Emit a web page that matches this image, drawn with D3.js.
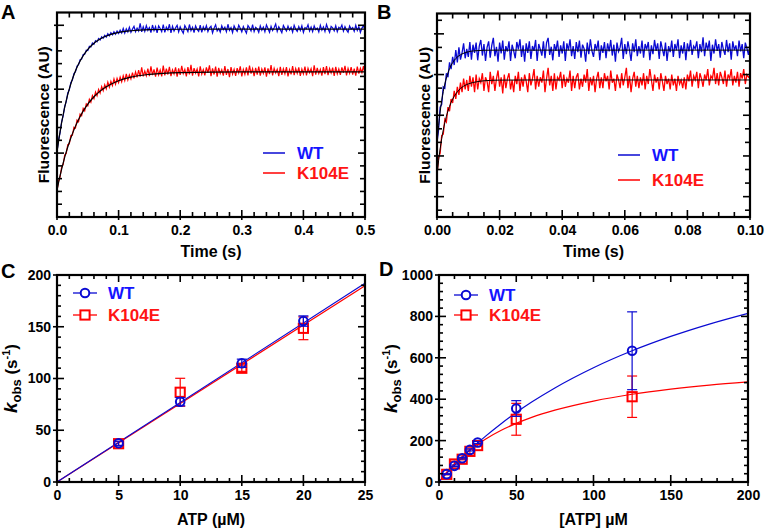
<!DOCTYPE html>
<html><head><meta charset="utf-8">
<script src="https://cdn.jsdelivr.net/npm/d3@7"></script>
<style>
body{margin:0;background:#fff}
svg{display:block}
text{font-family:"Liberation Sans",Arial,Helvetica,sans-serif;font-weight:bold}
</style>
</head><body>
<svg id="c" width="765" height="530"></svg>
<script>
// ---------------- DATA ----------------
const seriesNames = ["WT", "K104E"];
// Panel A: stopped-flow traces, sampled every 2.5 ms (0 - 0.5 s), fluorescence in arbitrary units
const stepA = 0.0025;
const traceA_WT = [5.10,6.02,6.60,7.45,7.92,8.66,9.03,9.70,9.95,10.52,
10.71,11.22,11.36,11.80,11.91,12.30,12.35,12.71,12.74,13.05,
13.02,13.36,13.30,13.61,13.52,13.80,13.70,13.97,13.85,14.10,
13.98,14.22,14.08,14.35,14.18,14.42,14.25,14.50,14.30,14.55,
14.36,14.62,14.40,14.75,14.38,14.72,14.48,14.85,14.45,14.70,
14.92,14.50,14.78,14.55,15.15,14.48,14.88,14.52,14.98,14.60,
14.82,14.42,15.02,14.58,14.90,14.40,14.95,14.75,14.50,15.05,
14.45,14.85,14.62,15.08,14.40,14.92,14.55,14.80,15.00,14.48,
14.88,14.60,14.38,14.98,14.75,14.50,15.06,14.58,14.85,14.42,
14.95,14.68,14.52,15.02,14.45,14.88,14.62,14.98,14.50,14.80,
14.92,14.40,14.78,15.04,14.55,14.74,14.46,14.96,14.66,14.85,
14.50,15.08,14.60,14.82,14.42,14.95,14.70,14.52,15.00,14.76,
14.48,14.90,14.64,14.38,14.98,14.80,14.55,15.05,14.50,14.84,
14.72,14.44,14.96,14.62,14.86,14.50,15.02,14.74,14.45,14.92,
14.58,14.80,15.10,14.52,14.88,14.66,14.42,14.98,14.76,14.55,
14.94,14.62,14.84,14.46,15.00,14.70,14.52,14.90,14.60,14.96,
14.44,14.82,14.74,15.04,14.55,14.86,14.50,14.95,14.66,14.78,
14.48,15.00,14.62,14.88,14.52,15.06,14.72,14.45,14.92,14.80,
14.56,14.96,14.50,14.85,14.74,15.02,14.54,14.90,14.64,14.46,
14.94,14.70,14.82,14.52,15.00,14.60,14.90,14.44,14.78,14.96,14.66];
const traceA_K104E = [2.05,2.80,3.15,3.90,4.10,4.85,4.98,5.66,5.72,6.38,
6.40,7.02,6.95,7.58,7.45,8.05,7.92,8.50,8.30,8.85,
8.70,9.22,8.98,9.50,9.25,9.78,9.48,9.98,9.70,10.20,
9.88,10.35,10.02,10.55,10.15,10.62,10.28,10.80,10.38,10.85,
10.50,10.95,10.58,11.05,10.66,11.20,10.72,11.12,10.80,11.30,
10.85,11.35,10.92,11.50,10.98,11.70,11.00,11.42,11.05,11.60,
11.02,11.78,11.10,11.55,10.98,11.68,11.12,11.50,11.00,11.85,
11.08,11.60,11.15,11.75,11.02,11.52,11.20,11.70,10.98,11.62,
11.12,11.82,11.22,11.55,11.00,11.72,11.16,11.90,11.06,11.64,
11.25,11.58,11.00,11.78,11.18,11.54,11.08,11.70,11.28,11.86,
11.02,11.62,11.15,11.76,10.98,11.66,11.22,11.52,11.06,11.80,
11.12,11.58,10.95,11.72,11.18,11.56,11.04,11.64,11.26,11.78,
11.00,11.55,11.16,11.70,11.08,11.84,11.22,11.60,11.02,11.66,
11.14,11.76,11.06,11.58,11.24,11.70,10.98,11.62,11.18,11.88,
11.08,11.64,11.26,11.56,11.02,11.74,11.12,11.60,11.20,11.72,
11.00,11.54,11.16,11.80,11.10,11.62,11.24,11.70,11.04,11.58,
11.20,11.76,11.08,11.64,11.28,11.60,11.02,11.86,11.14,11.66,
11.22,11.56,11.06,11.72,11.18,11.80,11.10,11.62,11.26,11.68,
11.04,11.74,11.20,11.58,11.12,11.70,11.28,11.82,11.08,11.63,
11.24,11.72,11.14,11.60,11.06,11.76,11.22,11.64,11.30,11.80,11.18];
// Panel A fitted curves (black), read at these times
const fitTimesA = [0,0.005,0.01,0.015,0.02,0.03,0.04,0.05,0.06,0.07,0.08,0.1,0.12,0.15,0.2,0.3,0.4,0.5];
const fitA_WT    = [5.10,6.68,8.00,9.10,10.02,11.44,12.42,13.11,13.60,13.93,14.16,14.44,14.57,14.66,14.69,14.70,14.70,14.70];
const fitA_K104E = [2.10,3.23,4.22,5.09,5.85,7.11,8.08,8.83,9.41,9.85,10.19,10.66,10.94,11.16,11.30,11.35,11.35,11.35];

// Panel B: traces sampled every 0.5 ms (0 - 0.1 s)
const stepB = 0.0005;
const traceB_WT = [5.50,6.40,8.10,8.30,9.60,9.50,10.60,10.30,11.40,10.90,
11.80,11.20,12.30,11.40,12.50,11.60,12.10,12.80,11.70,12.40,
11.80,12.90,11.60,12.70,12.10,12.85,11.55,12.60,13.05,11.90,
12.75,11.50,12.50,12.95,11.75,12.65,13.20,11.85,12.55,11.45,
12.85,12.05,13.00,11.60,12.60,12.20,12.95,11.50,12.70,12.25,
11.70,12.90,12.35,13.10,11.80,12.65,11.45,12.80,12.10,12.95,
11.65,12.60,12.25,13.05,11.50,12.75,12.35,11.90,12.95,11.70,
12.85,13.20,11.95,12.55,11.55,12.75,12.25,13.00,11.80,12.65,
12.05,12.95,11.50,12.80,12.30,13.10,11.85,12.60,11.65,12.90,
12.15,13.00,11.75,12.70,12.40,11.45,12.85,12.00,13.10,12.25,
11.80,12.75,12.30,13.00,11.55,12.65,12.10,12.90,11.70,12.80,
12.20,13.05,11.90,12.70,11.45,12.85,12.20,12.50,13.20,11.65,
12.75,12.00,12.95,12.30,11.50,12.80,12.15,13.10,11.85,12.60,
12.05,13.00,11.75,12.75,12.35,12.90,11.55,12.65,12.00,13.05,
12.25,12.80,11.65,12.95,12.40,11.85,12.85,11.50,12.60,12.15,
13.00,11.80,12.75,12.30,13.10,11.70,12.65,12.05,12.90,11.55,
12.80,12.20,13.05,11.95,12.60,12.40,12.95,11.70,12.75,12.15,
13.25,11.85,12.85,12.30,13.00,11.50,12.70,12.05,13.10,12.25,
12.75,11.75,12.90,12.35,11.95,13.05,12.15,12.80,11.60,12.95,
12.30,12.65,11.85,13.00,12.20,12.75,11.70,12.85,12.45,11.95,12.60];
const traceB_K104E = [3.10,4.40,4.70,6.00,6.10,7.20,7.00,8.10,7.80,8.70,
8.40,9.30,8.70,9.60,9.00,9.90,9.20,10.20,9.40,10.10,
9.30,10.40,9.60,10.30,9.20,10.50,9.40,10.20,9.90,10.60,
9.30,10.30,10.00,9.20,10.70,9.80,10.40,9.30,10.20,10.80,
9.60,10.30,9.10,10.50,9.50,10.20,10.60,9.40,10.10,9.20,
10.40,9.80,10.70,9.30,10.30,9.60,10.50,10.00,9.20,10.60,
9.70,10.20,10.90,9.40,10.40,9.60,10.30,9.90,10.80,9.20,
10.20,11.00,9.70,10.40,9.30,10.60,9.40,10.30,10.10,10.70,
9.50,10.50,9.60,10.20,9.90,10.80,9.30,10.40,9.50,10.30,
10.60,9.40,10.20,9.60,10.50,9.90,10.90,9.30,10.30,9.70,
10.40,9.20,10.20,10.70,9.50,10.30,9.50,10.60,10.00,10.40,
9.40,10.80,9.90,10.20,9.30,10.50,10.10,9.50,10.60,9.70,
10.30,11.00,9.50,10.40,9.20,10.20,10.70,9.60,10.40,9.50,
10.30,9.70,10.60,9.40,10.40,9.80,10.90,10.10,9.30,10.50,
9.90,10.30,9.40,10.60,10.00,9.30,10.40,9.80,10.20,9.40,
10.50,9.70,10.20,9.30,10.40,9.80,10.10,9.50,10.30,9.40,
10.50,10.00,10.80,9.60,10.40,10.10,10.70,9.50,10.60,10.20,
9.60,10.50,10.10,10.90,9.70,10.40,10.20,11.00,9.80,10.60,
9.70,10.70,10.30,9.80,10.80,9.60,10.50,10.20,10.90,9.70,
10.40,9.90,10.70,9.60,10.60,10.20,10.90,9.80,10.50,10.30,10.40];
const fitTimesB = [0,0.0005,0.001,0.0015,0.002,0.0025,0.003,0.004,0.005,0.006,0.008,0.01,0.0125,0.015,0.02,0.03,0.05,0.1];
const fitB_WT    = [5.50,6.73,7.74,8.57,9.25,9.80,10.25,10.93,11.38,11.68,12.02,12.18,12.26,12.29,12.30,12.30,12.30,12.30];
const fitB_K104E = [3.10,4.14,5.02,5.77,6.41,6.96,7.42,8.15,8.69,9.07,9.56,9.81,9.96,10.04,10.09,10.10,10.10,10.10];

// Panel C: kobs vs ATP (uM), 5-25 uM
const atpC = [5, 10, 15, 20];
const kobsC_WT = [37.4, 77.6, 114.7, 155.5];
const errC_WT  = [2, 4, 4, 5];
const kobsC_K104E = [37.0, 86.7, 109.9, 148.5];
const errC_K104E  = [2, 13.5, 3, 11];
const lineC_x = [0, 25];
const lineC_WT = [0, 192];
const lineC_K104E = [0, 189.5];

// Panel D: kobs vs [ATP] (uM), up to 125 uM
const atpD = [5, 10, 15, 20, 25, 50, 125];
const kobsD_WT = [38, 78, 115, 155, 191, 355, 634];
const errD_WT  = [2, 4, 4, 5, 5, 38, 188];
const kobsD_K104E = [37, 87, 110, 148, 176, 303, 412];
const errD_K104E  = [2, 13, 3, 11, 5, 77, 100];
const fitD_x = [0, 5, 10, 15, 20, 25, 30, 40, 50, 60, 75, 100, 125, 150, 175, 200];
const fitD_WT = [0, 41.6, 81.1, 118.6, 154.2, 188.1, 220.4, 280.6, 335.6, 386, 454.3, 552, 633.8, 703.2, 762.9, 814.8];
const fitD_K104E = [0, 47.5, 88.3, 123.8, 155, 182.5, 207, 249, 283, 312, 347, 391, 424, 448.5, 468, 483.7];

// Tick labels
const xLabelsA = [0, 0.1, 0.2, 0.3, 0.4, 0.5];
const xLabelsB = [0, 0.02, 0.04, 0.06, 0.08, 0.10];
const xLabelsC = [0, 5, 10, 15, 20, 25];
const yLabelsC = [0, 50, 100, 150, 200];
const xLabelsD = [0, 50, 100, 150, 200];
const yLabelsD = [0, 200, 400, 600, 800, 1000];

// ---------------- STYLE ----------------
const BLUE = "#0a0ad2", RED = "#ff0000";
const BLUE_T = "#1414ff", RED_T = "#ff1414";
const svg = d3.select("#c");

function makePanel(x0, x1, y0, y1, xDom, yDom) {
  const x = d3.scaleLinear().domain(xDom).range([x0, x1]);
  const y = d3.scaleLinear().domain(yDom).range([y1, y0]);
  const g = svg.append("g");
  return {g, x, y, x0, x1, y0, y1};
}

function frame(p, xMaj, xMin, yMaj, yMin, tk) {
  const {g, x, y, x0, x1, y0, y1} = p;
  const L = g.append("g").attr("stroke", "#000").attr("stroke-width", 1.6).attr("fill", "none");
  const ln = (a, b, c, d) => L.append("line").attr("x1", a).attr("y1", b).attr("x2", c).attr("y2", d);
  xMin.forEach(v => { ln(x(v), y1, x(v), y1 - tk.mi); ln(x(v), y0, x(v), y0 + tk.mi); });
  xMaj.forEach(v => { ln(x(v), y1 + tk.mo, x(v), y1 - tk.ma); ln(x(v), y0, x(v), y0 + tk.ma); });
  yMin.forEach(v => { ln(x0, y(v), x0 + tk.mi, y(v)); ln(x1, y(v), x1 - tk.mi, y(v)); });
  yMaj.forEach(v => { ln(x0 - tk.mo, y(v), x0 + tk.ma, y(v)); ln(x1, y(v), x1 - tk.ma, y(v)); });
  g.append("rect").attr("x", x0).attr("y", y0).attr("width", x1 - x0).attr("height", y1 - y0)
    .attr("fill", "none").attr("stroke", "#000").attr("stroke-width", 2.2);
}

function labels(p, xVals, xFmt, yVals, yFmt) {
  const {g, x, y, x0, y1} = p;
  const ax = g.append("g").attr("transform", `translate(0,${y1})`)
    .call(d3.axisBottom(x).tickValues(xVals).tickFormat(xFmt).tickSize(0).tickPadding(8));
  ax.select(".domain").remove();
  ax.selectAll("text").attr("font-size", 14).attr("fill", "#000");
  ax.attr("font-family", null).attr("font-size", null);
  if (yVals) {
    const ay = g.append("g").attr("transform", `translate(${x0},0)`)
      .call(d3.axisLeft(y).tickValues(yVals).tickFormat(yFmt).tickSize(0).tickPadding(6));
    ay.select(".domain").remove();
    ay.selectAll("text").attr("font-size", 14).attr("fill", "#000");
    ay.attr("font-family", null).attr("font-size", null);
  }
}

function xTitle(p, txt, base) {
  p.g.append("text").attr("x", (p.x0 + p.x1) / 2).attr("y", base).attr("text-anchor", "middle")
    .attr("font-size", 16).text(txt);
}
function yTitleFluor(p, bx) {
  p.g.append("text").attr("transform", `translate(${bx},${(p.y0 + p.y1) / 2}) rotate(-90)`)
    .attr("text-anchor", "middle").attr("font-size", 15.5).text("Fluorescence (AU)");
}
function yTitleK(p, bx) {
  const t = p.g.append("text").attr("transform", `translate(${bx},${(p.y0 + p.y1) / 2}) rotate(-90)`)
    .attr("text-anchor", "middle").attr("font-size", 17);
  t.append("tspan").attr("font-style", "italic").attr("font-size", 19).text("k");
  t.append("tspan").attr("font-size", 13).attr("dy", 4).text("obs");
  t.append("tspan").attr("dy", -4).text(" (s");
  t.append("tspan").attr("font-size", 11).attr("dy", -7).text("-1");
  t.append("tspan").attr("dy", 7).text(")");
}
function letter(txt, x, y) {
  svg.append("text").attr("x", x).attr("y", y).attr("font-size", 20).text(txt);
}

const lineGen = (p, xs) => d3.line().x((d, i) => p.x(xs[i])).y(d => p.y(d));

// ---------------- PANEL A ----------------
const A = makePanel(57, 365, 12.5, 217, [0, 0.5], [0, 16]);
const tA = traceA_WT.map((d, i) => i * stepA);
A.g.append("path").datum(traceA_WT).attr("d", lineGen(A, tA)).attr("fill", "none").attr("stroke", BLUE).attr("stroke-width", 1.2);
A.g.append("path").datum(traceA_K104E).attr("d", lineGen(A, tA)).attr("fill", "none").attr("stroke", RED).attr("stroke-width", 1.2);
[fitA_WT, fitA_K104E].forEach(f => A.g.append("path").datum(f)
  .attr("d", lineGen(A, fitTimesA).curve(d3.curveMonotoneX)).attr("fill", "none").attr("stroke", "#000").attr("stroke-width", 1.2));
frame(A, xLabelsA, d3.range(0.02, 0.5, 0.02).filter(v => Math.abs(v * 10 - Math.round(v * 10)) > 1e-6),
  [5, 10, 15], d3.range(1, 16).filter(v => v % 5), {mi: 5, ma: 7, mo: 3});
labels(A, xLabelsA, d3.format(".1f"));
xTitle(A, "Time (s)", 257);
yTitleFluor(A, 49);

// ---------------- PANEL B ----------------
const B = makePanel(437, 750, 13.5, 217, [0, 0.1], [0, 15]);
const tB = traceB_WT.map((d, i) => i * stepB);
B.g.append("path").datum(traceB_WT).attr("d", lineGen(B, tB)).attr("fill", "none").attr("stroke", BLUE).attr("stroke-width", 1.3);
B.g.append("path").datum(traceB_K104E).attr("d", lineGen(B, tB)).attr("fill", "none").attr("stroke", RED).attr("stroke-width", 1.3);
[fitB_WT, fitB_K104E].forEach(f => B.g.append("path").datum(f)
  .attr("d", lineGen(B, fitTimesB).curve(d3.curveMonotoneX)).attr("fill", "none").attr("stroke", "#000").attr("stroke-width", 1));
frame(B, xLabelsB, d3.range(0.005, 0.1, 0.005).filter(v => Math.abs(v * 50 - Math.round(v * 50)) > 1e-6),
  [1.5, 4.5, 7.5, 10.5, 13.5], d3.range(0.5, 15, 1).filter(v => ![1.5, 4.5, 7.5, 10.5, 13.5].includes(v)), {mi: 5, ma: 7, mo: 3});
labels(B, xLabelsB, d3.format(".2f"));
xTitle(B, "Time (s)", 257);
yTitleFluor(B, 430);

// legends A, B
function lineLegend(p, lx, ly, gap) {
  [[BLUE, BLUE_T, seriesNames[0], 0], [RED, RED_T, seriesNames[1], gap]].forEach(([c, ct, name, dy]) => {
    p.g.append("line").attr("x1", lx).attr("x2", lx + 22).attr("y1", ly + dy).attr("y2", ly + dy).attr("stroke", c).attr("stroke-width", 1.5);
    p.g.append("text").attr("x", lx + 34).attr("y", ly + dy + 6).attr("font-size", 17).attr("fill", ct).text(name);
  });
}
lineLegend(A, 263, 153, 20);
lineLegend(B, 618, 155, 25);

// ---------------- PANEL C & D ----------------
function markers(p, xs, ys, es, color, shape) {
  const g = p.g.append("g").attr("stroke", color).attr("fill", "none");
  xs.forEach((xv, i) => {
    const cx = p.x(xv), cyT = p.y(ys[i] + es[i]), cyB = p.y(ys[i] - es[i]);
    g.append("line").attr("x1", cx).attr("x2", cx).attr("y1", cyT).attr("y2", cyB).attr("stroke-width", 1.2);
    g.append("line").attr("x1", cx - 5).attr("x2", cx + 5).attr("y1", cyT).attr("y2", cyT).attr("stroke-width", 1.2);
    g.append("line").attr("x1", cx - 5).attr("x2", cx + 5).attr("y1", cyB).attr("y2", cyB).attr("stroke-width", 1.2);
  });
  xs.forEach((xv, i) => {
    const cx = p.x(xv), cy = p.y(ys[i]);
    if (shape === "circle") g.append("circle").attr("cx", cx).attr("cy", cy).attr("r", 4.3).attr("stroke-width", 2);
    else g.append("rect").attr("x", cx - 4.6).attr("y", cy - 4.6).attr("width", 9.2).attr("height", 9.2).attr("stroke-width", 2);
  });
}
function markLegend(p, lx, ly, gap) {
  [[RED, RED_T, seriesNames[1], gap, "rect"], [BLUE, BLUE_T, seriesNames[0], 0, "circle"]].forEach(([c, ct, name, dy, sh]) => {
    const y = ly + dy;
    p.g.append("line").attr("x1", lx).attr("x2", lx + 24).attr("y1", y).attr("y2", y).attr("stroke", c).attr("stroke-width", 1.3);
    if (sh === "circle") p.g.append("circle").attr("cx", lx + 12).attr("cy", y).attr("r", 4.3).attr("fill", "#fff").attr("stroke", c).attr("stroke-width", 2);
    else p.g.append("rect").attr("x", lx + 7.4).attr("y", y - 4.6).attr("width", 9.2).attr("height", 9.2).attr("fill", "#fff").attr("stroke", c).attr("stroke-width", 2);
    p.g.append("text").attr("x", lx + 35).attr("y", y + 6).attr("font-size", 17).attr("fill", ct).text(name);
  });
}

const C = makePanel(57, 365, 275, 482, [0, 25], [0, 200]);
C.g.append("path").datum(lineC_K104E).attr("d", lineGen(C, lineC_x)).attr("fill", "none").attr("stroke", RED).attr("stroke-width", 1.2);
C.g.append("path").datum(lineC_WT).attr("d", lineGen(C, lineC_x)).attr("fill", "none").attr("stroke", BLUE).attr("stroke-width", 1.2);
markers(C, atpC, kobsC_K104E, errC_K104E, RED, "rect");
markers(C, atpC, kobsC_WT, errC_WT, BLUE, "circle");
frame(C, xLabelsC, d3.range(1, 25).filter(v => v % 5), yLabelsC, d3.range(10, 200, 10).filter(v => v % 50), {mi: 4, ma: 7, mo: 4});
labels(C, xLabelsC, d3.format("d"), yLabelsC, d3.format("d"));
xTitle(C, "ATP (\u00B5M)", 525);
yTitleK(C, 17);
markLegend(C, 73, 293, 22);

const D = makePanel(439, 748, 275, 482, [0, 200], [0, 1000]);
D.g.append("path").datum(fitD_K104E).attr("d", lineGen(D, fitD_x).curve(d3.curveMonotoneX)).attr("fill", "none").attr("stroke", RED).attr("stroke-width", 1.2);
D.g.append("path").datum(fitD_WT).attr("d", lineGen(D, fitD_x).curve(d3.curveMonotoneX)).attr("fill", "none").attr("stroke", BLUE).attr("stroke-width", 1.2);
markers(D, atpD, kobsD_K104E, errD_K104E, RED, "rect");
markers(D, atpD, kobsD_WT, errD_WT, BLUE, "circle");
frame(D, xLabelsD, d3.range(10, 200, 10).filter(v => v % 50), yLabelsD, d3.range(40, 1000, 40).filter(v => v % 200), {mi: 4, ma: 7, mo: 4});
labels(D, xLabelsD, d3.format("d"), yLabelsD, d3.format("d"));
xTitle(D, "[ATP] \u00B5M", 525);
yTitleK(D, 397);
markLegend(D, 454, 295, 20);

letter("A", 1, 19);
letter("B", 377, 19);
letter("C", 1, 278);
letter("D", 379, 276);
</script>
</body></html>
